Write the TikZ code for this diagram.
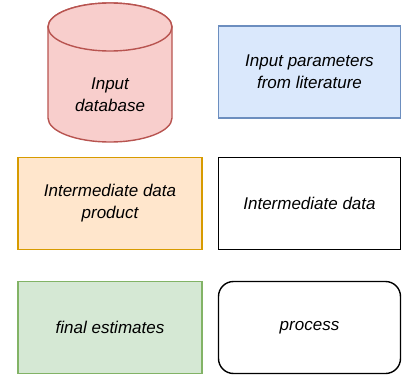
\documentclass[tikz,border=0pt]{standalone}
\usepackage{fontspec}
\setmainfont{Liberation Sans}
\definecolor{redfill}{HTML}{F8CECC}
\definecolor{redline}{HTML}{B85450}
\definecolor{bluefill}{HTML}{DAE8FC}
\definecolor{blueline}{HTML}{6C8EBF}
\definecolor{orangefill}{HTML}{FFE6CC}
\definecolor{orangeline}{HTML}{D79B00}
\definecolor{greenfill}{HTML}{D5E8D4}
\definecolor{greenline}{HTML}{82B366}
\begin{document}
\begin{tikzpicture}[x=1pt,y=-1pt,
  lbl/.style={align=center,font=\fontsize{17}{22}\selectfont\itshape,text=black},
  boxshape/.style={draw,line width=1.4pt,minimum width=184pt,minimum height=92pt,inner sep=0pt},
  rightbox/.style={boxshape,minimum width=182pt}]
\useasboundingbox (0,0) rectangle (402,383);
% cylinder
\filldraw[fill=redfill,draw=redline,line width=1.4pt]
  (48,27) -- (48,118) arc[start angle=180,end angle=360,x radius=62pt,y radius=24pt]
  -- (172,27) arc[start angle=0,end angle=180,x radius=62pt,y radius=24pt] -- cycle;
\filldraw[fill=redfill,draw=redline,line width=1.4pt] (110,27) ellipse[x radius=62pt,y radius=24pt];
\node[lbl] (db) at (110,95) {Input\\database};
% boxes
\node[rightbox,fill=bluefill,draw=blueline,lbl] (lit) at (309.5,72) {Input parameters\\from literature};
\node[boxshape,fill=orangefill,draw=orangeline,lbl] (idp) at (110,203.5) {Intermediate data\\product};
\node[rightbox,fill=white,draw=black,lbl] (id) at (309.5,203.5) {Intermediate data};
\node[boxshape,fill=greenfill,draw=greenline,lbl] (fe) at (110,327.5) {final estimates};
\node[rightbox,fill=white,draw=black,rounded corners=15pt,lbl] (pr) at (309.5,327.5) {process};
\end{tikzpicture}
\end{document}
